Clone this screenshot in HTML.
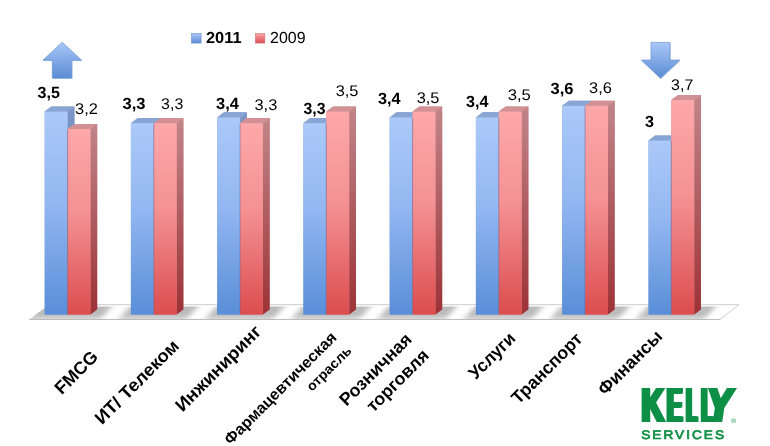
<!DOCTYPE html>
<html lang="ru">
<head>
<meta charset="utf-8">
<style>
html,body{margin:0;padding:0;background:#fff;}
body{width:770px;height:446px;overflow:hidden;font-family:"Liberation Sans", sans-serif;}
svg{display:block;}
text{font-family:"Liberation Sans", sans-serif;text-rendering:geometricPrecision;}
.b{font-weight:bold;}
</style>
</head>
<body>
<svg width="770" height="446" viewBox="0 0 770 446">
<defs>
<linearGradient id="gb" x1="0" y1="0" x2="0" y2="1">
<stop offset="0" stop-color="#abc9f9"/><stop offset="0.45" stop-color="#93b7f1"/><stop offset="1" stop-color="#598ed8"/>
</linearGradient>
<linearGradient id="gbs" x1="0" y1="0" x2="0" y2="1">
<stop offset="0" stop-color="#7d98c6"/><stop offset="1" stop-color="#3f67a6"/>
</linearGradient>
<linearGradient id="gr" x1="0" y1="0" x2="0" y2="1">
<stop offset="0" stop-color="#fda8aa"/><stop offset="0.45" stop-color="#f49193"/><stop offset="1" stop-color="#dc4d4f"/>
</linearGradient>
<linearGradient id="grs" x1="0" y1="0" x2="0" y2="1">
<stop offset="0" stop-color="#c1858a"/><stop offset="1" stop-color="#9c3236"/>
</linearGradient>
<linearGradient id="gfw" x1="0" y1="0" x2="0" y2="1"><stop offset="0" stop-color="#fff" stop-opacity="0"/><stop offset="1" stop-color="#fff" stop-opacity="0.5"/></linearGradient>
<linearGradient id="gar" x1="0" y1="0" x2="0" y2="1">
<stop offset="0" stop-color="#a9c7f7"/><stop offset="1" stop-color="#5a8cd4"/>
</linearGradient>
<linearGradient id="glb" x1="0" y1="0" x2="0" y2="1">
<stop offset="0" stop-color="#a9c7f7"/><stop offset="1" stop-color="#5a8cd4"/>
</linearGradient>
<linearGradient id="glr" x1="0" y1="0" x2="0" y2="1">
<stop offset="0" stop-color="#fda7a9"/><stop offset="1" stop-color="#dc4c52"/>
</linearGradient>
<filter id="sh" x="-20%" y="-20%" width="140%" height="140%"><feGaussianBlur stdDeviation="0.6"/></filter>
<filter id="shf" x="-5%" y="-50%" width="110%" height="200%"><feGaussianBlur stdDeviation="3.4 0.8"/></filter>
</defs>
<rect width="770" height="446" fill="#fff"/>

<clipPath id="fc"><polygon points="29.3,319.6 46.5,306.6 736.5,306.6 720,319.6"/></clipPath>
<polygon points="29.3,319.6 50,304.6 739,304.6 720,319.6" fill="#ffffff"/>
<g clip-path="url(#fc)"><g filter="url(#shf)">
<polygon points="-1.5,323.6 19.0,300.6 116.7,300.6 97.0,323.6" fill="#bcbcbc"/>
<polygon points="114.7,323.6 135.2,300.6 202.9,300.6 183.2,323.6" fill="#bcbcbc"/>
<polygon points="201.0,323.6 221.5,300.6 289.2,300.6 269.5,323.6" fill="#bcbcbc"/>
<polygon points="287.2,323.6 307.8,300.6 375.4,300.6 355.8,323.6" fill="#bcbcbc"/>
<polygon points="373.5,323.6 394.0,300.6 461.7,300.6 442.0,323.6" fill="#bcbcbc"/>
<polygon points="459.8,323.6 480.2,300.6 547.9,300.6 528.2,323.6" fill="#bcbcbc"/>
<polygon points="546.0,323.6 566.5,300.6 634.2,300.6 614.5,323.6" fill="#bcbcbc"/>
<polygon points="632.2,323.6 652.8,300.6 720.5,300.6 700.8,323.6" fill="#bcbcbc"/>
</g><rect x="20" y="314" width="720" height="6" fill="url(#gfw)"/></g>
<polyline points="50,304.7 739,304.7 720,319.5" fill="none" stroke="#c6c6c6" stroke-width="0.9"/>
<polyline points="720,319.5 29.3,319.5" fill="none" stroke="#b6b6b6" stroke-width="0.9"/>
<polygon points="44.7,111.6 51.5,106.5 74.4,106.5 74.4,309.5 67.6,314.6 44.7,314.6" fill="#88a5d4"/><polygon points="67.6,111.6 74.4,106.5 74.4,309.5 67.6,314.6" fill="url(#gbs)"/><polygon points="44.7,111.6 51.5,106.5 74.4,106.5 67.6,111.6" fill="#88a5d4"/><rect x="44.7" y="111.6" width="22.9" height="203.0" fill="url(#gb)"/>
<polygon points="67.6,129.0 74.4,123.9 97.2,123.9 97.2,309.5 90.4,314.6 67.6,314.6" fill="#d29194"/><polygon points="90.4,129.0 97.2,123.9 97.2,309.5 90.4,314.6" fill="url(#grs)"/><polygon points="67.6,129.0 74.4,123.9 97.2,123.9 90.4,129.0" fill="#d29194"/><rect x="67.6" y="129.0" width="22.9" height="185.6" fill="url(#gr)"/>
<line x1="67.55" y1="129.5" x2="67.55" y2="314.6" stroke="#6b5f8f" stroke-opacity="0.45" stroke-width="1.1"/>
<polygon points="130.9,123.2 137.8,118.1 160.6,118.1 160.6,309.5 153.8,314.6 130.9,314.6" fill="#88a5d4"/><polygon points="153.8,123.2 160.6,118.1 160.6,309.5 153.8,314.6" fill="url(#gbs)"/><polygon points="130.9,123.2 137.8,118.1 160.6,118.1 153.8,123.2" fill="#88a5d4"/><rect x="130.9" y="123.2" width="22.9" height="191.4" fill="url(#gb)"/>
<polygon points="153.8,123.2 160.6,118.1 183.4,118.1 183.4,309.5 176.6,314.6 153.8,314.6" fill="#d29194"/><polygon points="176.6,123.2 183.4,118.1 183.4,309.5 176.6,314.6" fill="url(#grs)"/><polygon points="153.8,123.2 160.6,118.1 183.4,118.1 176.6,123.2" fill="#d29194"/><rect x="153.8" y="123.2" width="22.9" height="191.4" fill="url(#gr)"/>
<line x1="153.80" y1="123.7" x2="153.80" y2="314.6" stroke="#6b5f8f" stroke-opacity="0.45" stroke-width="1.1"/>
<polygon points="217.2,117.4 224.0,112.3 246.8,112.3 246.8,309.5 240.0,314.6 217.2,314.6" fill="#88a5d4"/><polygon points="240.0,117.4 246.8,112.3 246.8,309.5 240.0,314.6" fill="url(#gbs)"/><polygon points="217.2,117.4 224.0,112.3 246.8,112.3 240.0,117.4" fill="#88a5d4"/><rect x="217.2" y="117.4" width="22.9" height="197.2" fill="url(#gb)"/>
<polygon points="240.0,123.2 246.8,118.1 269.7,118.1 269.7,309.5 262.9,314.6 240.0,314.6" fill="#d29194"/><polygon points="262.9,123.2 269.7,118.1 269.7,309.5 262.9,314.6" fill="url(#grs)"/><polygon points="240.0,123.2 246.8,118.1 269.7,118.1 262.9,123.2" fill="#d29194"/><rect x="240.0" y="123.2" width="22.9" height="191.4" fill="url(#gr)"/>
<line x1="240.05" y1="123.7" x2="240.05" y2="314.6" stroke="#6b5f8f" stroke-opacity="0.45" stroke-width="1.1"/>
<polygon points="303.4,123.2 310.2,118.1 333.1,118.1 333.1,309.5 326.3,314.6 303.4,314.6" fill="#88a5d4"/><polygon points="326.3,123.2 333.1,118.1 333.1,309.5 326.3,314.6" fill="url(#gbs)"/><polygon points="303.4,123.2 310.2,118.1 333.1,118.1 326.3,123.2" fill="#88a5d4"/><rect x="303.4" y="123.2" width="22.9" height="191.4" fill="url(#gb)"/>
<polygon points="326.3,111.6 333.1,106.5 356.0,106.5 356.0,309.5 349.2,314.6 326.3,314.6" fill="#d29194"/><polygon points="349.2,111.6 356.0,106.5 356.0,309.5 349.2,314.6" fill="url(#grs)"/><polygon points="326.3,111.6 333.1,106.5 356.0,106.5 349.2,111.6" fill="#d29194"/><rect x="326.3" y="111.6" width="22.9" height="203.0" fill="url(#gr)"/>
<line x1="326.30" y1="123.7" x2="326.30" y2="314.6" stroke="#6b5f8f" stroke-opacity="0.45" stroke-width="1.1"/>
<polygon points="389.7,117.4 396.5,112.3 419.4,112.3 419.4,309.5 412.6,314.6 389.7,314.6" fill="#88a5d4"/><polygon points="412.6,117.4 419.4,112.3 419.4,309.5 412.6,314.6" fill="url(#gbs)"/><polygon points="389.7,117.4 396.5,112.3 419.4,112.3 412.6,117.4" fill="#88a5d4"/><rect x="389.7" y="117.4" width="22.9" height="197.2" fill="url(#gb)"/>
<polygon points="412.6,111.6 419.4,106.5 442.2,106.5 442.2,309.5 435.4,314.6 412.6,314.6" fill="#d29194"/><polygon points="435.4,111.6 442.2,106.5 442.2,309.5 435.4,314.6" fill="url(#grs)"/><polygon points="412.6,111.6 419.4,106.5 442.2,106.5 435.4,111.6" fill="#d29194"/><rect x="412.6" y="111.6" width="22.9" height="203.0" fill="url(#gr)"/>
<line x1="412.55" y1="117.9" x2="412.55" y2="314.6" stroke="#6b5f8f" stroke-opacity="0.45" stroke-width="1.1"/>
<polygon points="475.9,117.4 482.8,112.3 505.6,112.3 505.6,309.5 498.8,314.6 475.9,314.6" fill="#88a5d4"/><polygon points="498.8,117.4 505.6,112.3 505.6,309.5 498.8,314.6" fill="url(#gbs)"/><polygon points="475.9,117.4 482.8,112.3 505.6,112.3 498.8,117.4" fill="#88a5d4"/><rect x="475.9" y="117.4" width="22.9" height="197.2" fill="url(#gb)"/>
<polygon points="498.8,111.6 505.6,106.5 528.4,106.5 528.4,309.5 521.6,314.6 498.8,314.6" fill="#d29194"/><polygon points="521.6,111.6 528.4,106.5 528.4,309.5 521.6,314.6" fill="url(#grs)"/><polygon points="498.8,111.6 505.6,106.5 528.4,106.5 521.6,111.6" fill="#d29194"/><rect x="498.8" y="111.6" width="22.9" height="203.0" fill="url(#gr)"/>
<line x1="498.80" y1="117.9" x2="498.80" y2="314.6" stroke="#6b5f8f" stroke-opacity="0.45" stroke-width="1.1"/>
<polygon points="562.2,105.8 569.0,100.7 591.9,100.7 591.9,309.5 585.1,314.6 562.2,314.6" fill="#88a5d4"/><polygon points="585.1,105.8 591.9,100.7 591.9,309.5 585.1,314.6" fill="url(#gbs)"/><polygon points="562.2,105.8 569.0,100.7 591.9,100.7 585.1,105.8" fill="#88a5d4"/><rect x="562.2" y="105.8" width="22.9" height="208.8" fill="url(#gb)"/>
<polygon points="585.1,105.8 591.9,100.7 614.7,100.7 614.7,309.5 607.9,314.6 585.1,314.6" fill="#d29194"/><polygon points="607.9,105.8 614.7,100.7 614.7,309.5 607.9,314.6" fill="url(#grs)"/><polygon points="585.1,105.8 591.9,100.7 614.7,100.7 607.9,105.8" fill="#d29194"/><rect x="585.1" y="105.8" width="22.9" height="208.8" fill="url(#gr)"/>
<line x1="585.05" y1="106.3" x2="585.05" y2="314.6" stroke="#6b5f8f" stroke-opacity="0.45" stroke-width="1.1"/>
<polygon points="648.5,140.6 655.2,135.5 678.1,135.5 678.1,309.5 671.3,314.6 648.5,314.6" fill="#88a5d4"/><polygon points="671.3,140.6 678.1,135.5 678.1,309.5 671.3,314.6" fill="url(#gbs)"/><polygon points="648.5,140.6 655.2,135.5 678.1,135.5 671.3,140.6" fill="#88a5d4"/><rect x="648.5" y="140.6" width="22.9" height="174.0" fill="url(#gb)"/>
<polygon points="671.3,100.0 678.1,94.9 701.0,94.9 701.0,309.5 694.2,314.6 671.3,314.6" fill="#d29194"/><polygon points="694.2,100.0 701.0,94.9 701.0,309.5 694.2,314.6" fill="url(#grs)"/><polygon points="671.3,100.0 678.1,94.9 701.0,94.9 694.2,100.0" fill="#d29194"/><rect x="671.3" y="100.0" width="22.9" height="214.6" fill="url(#gr)"/>
<line x1="671.30" y1="141.1" x2="671.30" y2="314.6" stroke="#6b5f8f" stroke-opacity="0.45" stroke-width="1.1"/>
<text x="37.5" y="97.5" font-size="16.2" class="b" textLength="22.4" lengthAdjust="spacingAndGlyphs">3,5</text>
<text x="75.1" y="113.9" font-size="15.4" textLength="22.8" lengthAdjust="spacingAndGlyphs">3,2</text>
<text x="122.5" y="108.7" font-size="16.2" class="b" textLength="23.0" lengthAdjust="spacingAndGlyphs">3,3</text>
<text x="161.1" y="108.9" font-size="15.4" textLength="22.2" lengthAdjust="spacingAndGlyphs">3,3</text>
<text x="216.1" y="108.5" font-size="16.2" class="b" textLength="22.8" lengthAdjust="spacingAndGlyphs">3,4</text>
<text x="254.5" y="110.3" font-size="15.4" textLength="22.8" lengthAdjust="spacingAndGlyphs">3,3</text>
<text x="303.5" y="113.7" font-size="16.2" class="b" textLength="22.0" lengthAdjust="spacingAndGlyphs">3,3</text>
<text x="335.7" y="95.9" font-size="15.4" textLength="22.8" lengthAdjust="spacingAndGlyphs">3,5</text>
<text x="377.9" y="104.1" font-size="16.2" class="b" textLength="22.6" lengthAdjust="spacingAndGlyphs">3,4</text>
<text x="416.7" y="103.3" font-size="15.4" textLength="22.8" lengthAdjust="spacingAndGlyphs">3,5</text>
<text x="466.1" y="107.1" font-size="16.2" class="b" textLength="22.4" lengthAdjust="spacingAndGlyphs">3,4</text>
<text x="507.7" y="99.9" font-size="15.4" textLength="23.2" lengthAdjust="spacingAndGlyphs">3,5</text>
<text x="550.5" y="93.5" font-size="16.2" class="b" textLength="23.0" lengthAdjust="spacingAndGlyphs">3,6</text>
<text x="589.1" y="92.9" font-size="15.4" textLength="22.8" lengthAdjust="spacingAndGlyphs">3,6</text>
<text x="645.1" y="126.5" font-size="16.2" class="b" textLength="9.0" lengthAdjust="spacingAndGlyphs">3</text>
<text x="671.1" y="90.3" font-size="15.4" textLength="22.2" lengthAdjust="spacingAndGlyphs">3,7</text>
<rect x="191.5" y="33.5" width="9.6" height="9.6" fill="url(#glb)" stroke="#6f93cc" stroke-width="0.6"/>
<text x="206" y="43.3" font-size="16.0" class="b" textLength="35.5" lengthAdjust="spacingAndGlyphs">2011</text>
<rect x="255.3" y="33.5" width="9.6" height="9.6" fill="url(#glr)" stroke="#d07a7d" stroke-width="0.6"/>
<text x="270" y="43.3" font-size="16.0" textLength="35.5" lengthAdjust="spacingAndGlyphs">2009</text>
<polygon points="62.2,42.3 81.6,60.2 71.8,60.2 71.8,78.1 52.3,78.1 52.3,60.2 42.8,60.2" fill="#6a8fc9" opacity="0.5" filter="url(#sh)" transform="translate(0.6,0.8)"/>
<polygon points="62.2,42.3 81.6,60.2 71.8,60.2 71.8,78.1 52.3,78.1 52.3,60.2 42.8,60.2" fill="url(#gar)" stroke="#6f96d4" stroke-width="0.7"/>
<polygon points="651,42.4 670,42.4 670,60 679.8,60 660.4,78.2 641.2,60 651,60" fill="#6a8fc9" opacity="0.5" filter="url(#sh)" transform="translate(0.6,0.8)"/>
<polygon points="651,42.4 670,42.4 670,60 679.8,60 660.4,78.2 641.2,60 651,60" fill="url(#gar)" stroke="#6f96d4" stroke-width="0.7"/>
<text transform="translate(99.1,357.9) rotate(-45)" x="0" y="0" text-anchor="end" font-size="17.8" class="b" textLength="52.7" lengthAdjust="spacingAndGlyphs">FMCG</text>
<text transform="translate(180.0,347.1) rotate(-45)" x="0" y="0" text-anchor="end" font-size="17.8" class="b" textLength="110.4" lengthAdjust="spacingAndGlyphs">ИТ/ Телеком</text>
<text transform="translate(262.4,332.6) rotate(-45)" x="0" y="0" text-anchor="end" font-size="17.8" class="b" textLength="113.1" lengthAdjust="spacingAndGlyphs">Инжиниринг</text>
<text transform="translate(337.6,338.5) rotate(-45)" x="0" y="0" text-anchor="end" font-size="15.8" class="b" textLength="151.4" lengthAdjust="spacingAndGlyphs">Фармацевтическая</text>
<text transform="translate(352.4,351.6) rotate(-45)" x="0" y="0" text-anchor="end" font-size="13.6" class="b" textLength="57.3" lengthAdjust="spacingAndGlyphs">отрасль</text>
<text transform="translate(412.9,340.4) rotate(-45)" x="0" y="0" text-anchor="end" font-size="17.8" class="b" textLength="94.0" lengthAdjust="spacingAndGlyphs">Розничная</text>
<text transform="translate(429.9,356.6) rotate(-45)" x="0" y="0" text-anchor="end" font-size="17.8" class="b" textLength="79.9" lengthAdjust="spacingAndGlyphs">торговля</text>
<text transform="translate(516.5,339.5) rotate(-45)" x="0" y="0" text-anchor="end" font-size="17.8" class="b" textLength="57.7" lengthAdjust="spacingAndGlyphs">Услуги</text>
<text transform="translate(583.5,340.0) rotate(-45)" x="0" y="0" text-anchor="end" font-size="17.8" class="b" textLength="92.0" lengthAdjust="spacingAndGlyphs">Транспорт</text>
<text transform="translate(663.5,337.6) rotate(-45)" x="0" y="0" text-anchor="end" font-size="17.8" class="b" textLength="82.8" lengthAdjust="spacingAndGlyphs">Финансы</text>
<filter id="smear" x="-10%" y="-10%" width="120%" height="120%"><feOffset in="SourceGraphic" dx="-1.6" result="a"/><feOffset in="SourceGraphic" dx="-0.8" result="b"/><feOffset in="SourceGraphic" dx="0.8" result="c"/><feOffset in="SourceGraphic" dx="1.6" result="d"/><feMerge><feMergeNode in="a"/><feMergeNode in="b"/><feMergeNode in="SourceGraphic"/><feMergeNode in="c"/><feMergeNode in="d"/></feMerge></filter>
<g filter="url(#smear)"><text y="422.1" font-size="49.4" font-weight="bold" fill="#0d8f45" text-rendering="geometricPrecision"><tspan x="641.43" textLength="22.95" lengthAdjust="spacingAndGlyphs">K</tspan><tspan x="667.10" textLength="15.35" lengthAdjust="spacingAndGlyphs">E</tspan><tspan x="686.48" textLength="10.56" lengthAdjust="spacingAndGlyphs">L</tspan><tspan x="701.54" textLength="11.86" lengthAdjust="spacingAndGlyphs">L</tspan><tspan x="706.87" textLength="25.36" lengthAdjust="spacingAndGlyphs" font-style="italic">Y</tspan></text></g>
<text x="731.2" y="422.6" font-size="6.5" fill="#0d8f45">®</text>
<text transform="translate(641.2,439.3) scale(1.1,1)" font-size="12.4" fill="#0d8f45" stroke="#0d8f45" stroke-width="0.7" textLength="75.3" lengthAdjust="spacing">SERVICES</text>
</svg>
</body>
</html>
